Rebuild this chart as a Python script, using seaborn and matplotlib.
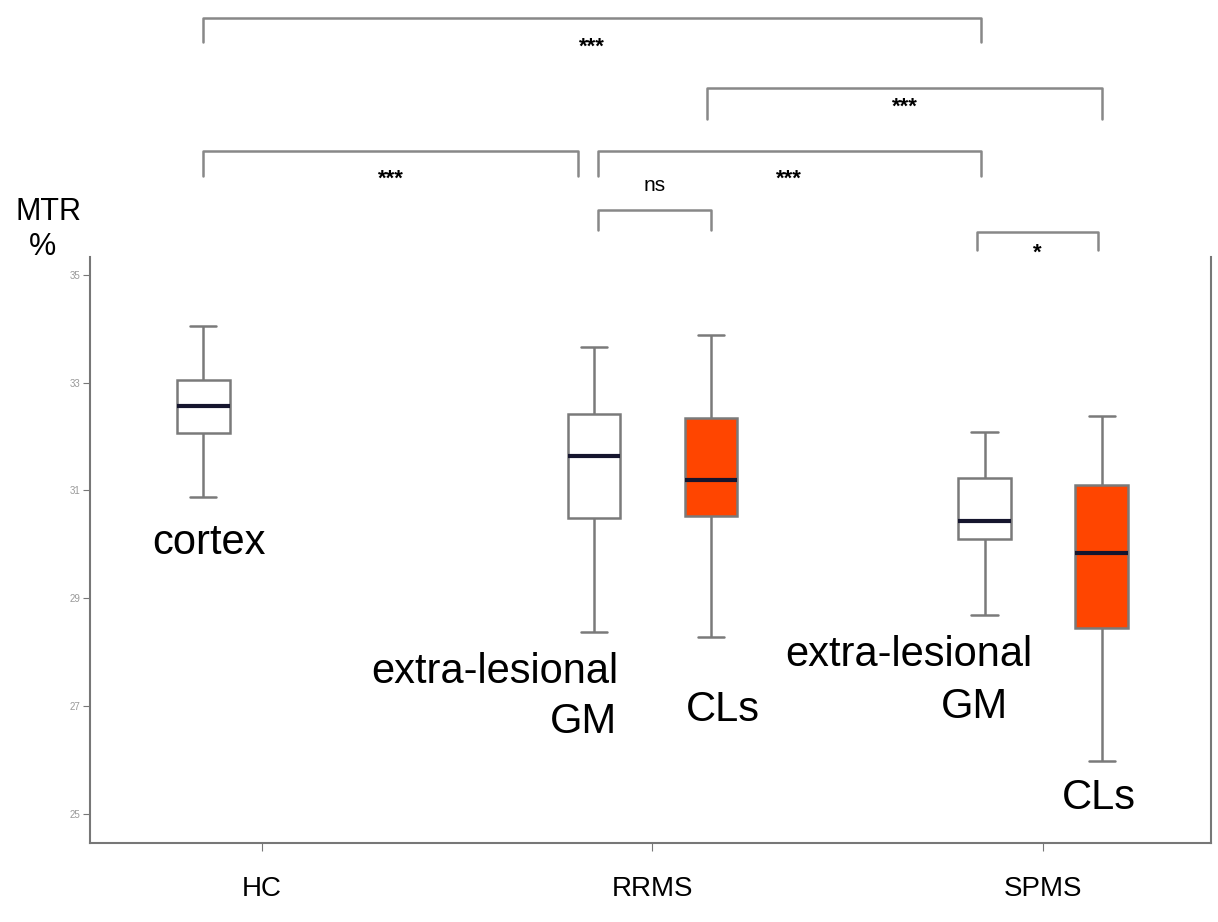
import pandas as pd
import seaborn as sns
import matplotlib.pyplot as plt

# Данные: пятичисловые сводки (min, Q1, медиана, Q3, max) для каждого бокса
groups = ['HC', 'RRMS', 'SPMS']
tissues = ['GM', 'CLs']

hc_cortex = [30.88, 32.07, 32.57, 33.05, 34.05]
rrms_gm = [28.38, 30.49, 31.64, 32.42, 33.66]
rrms_cl = [28.28, 30.53, 31.20, 32.35, 33.89]
spms_gm = [28.69, 30.10, 30.44, 31.23, 32.09]
spms_cl = [25.98, 28.45, 29.84, 31.10, 32.38]

# Сравнения: (x1, x2, метка)
comparisons = [
    (-0.15, 1.84, '***'),
    (1.14, 2.15, '***'),
    (-0.15, 0.81, '***'),
    (0.86, 1.84, '***'),
    (0.86, 1.15, 'ns'),
    (1.83, 2.14, '*'),
]
bracket_top = [39.77, 38.47, 37.30, 37.30, 36.21, 35.80]
bracket_end = [39.32, 37.88, 36.84, 36.84, 35.83, 35.46]
label_y = [39.22, 38.10, 36.77, 36.77, 36.65, 35.40]

rows = []
for g, t, vals in [('HC', 'GM', hc_cortex), ('RRMS', 'GM', rrms_gm), ('RRMS', 'CLs', rrms_cl),
                   ('SPMS', 'GM', spms_gm), ('SPMS', 'CLs', spms_cl)]:
    for v in vals:
        rows.append({'group': g, 'tissue': t, 'mtr': v})
df = pd.DataFrame(rows)

sns.set_style('ticks')
plt.rcParams['font.family'] = ['Liberation Sans', 'DejaVu Sans']
plt.rcParams['text.color'] = 'black'
plt.rcParams['xtick.labelcolor'] = 'black'

fig = plt.figure(figsize=(12.18, 9.22), dpi=100)
ax = fig.add_axes([0.0739, 0.0857, 0.9204, 0.6356])

sns.boxplot(data=df, x='group', y='mtr', hue='tissue', order=groups, hue_order=tissues,
            palette={'GM': 'white', 'CLs': '#FF4500'}, saturation=1, width=0.6, gap=0.55,
            whis=(0, 100), linecolor='#7a7a7a', linewidth=1.8,
            medianprops=dict(color='#15152e', linewidth=3), legend=False, ax=ax)

ax.set_xlim(-0.44, 2.43)
ax.set_ylim(24.46, 35.33)
ax.set_yticks([25, 27, 29, 31, 33, 35])
ax.set_xlabel('')
ax.set_ylabel('')
ax.spines['top'].set_visible(False)
for s in ['left', 'bottom', 'right']:
    ax.spines[s].set_color('#777777')
    ax.spines[s].set_linewidth(1.5)
ax.tick_params(axis='y', length=5, color='#777777', labelsize=7, labelcolor='#999999', pad=2)
ax.tick_params(axis='x', length=6, color='#777777', labelsize=20, labelcolor='black', pad=18)

# Подписи боксов
ax.text(-0.136, 30.03, 'cortex', fontsize=30, ha='center', va='center')
ax.text(0.596, 27.63, 'extra-lesional', fontsize=30, ha='center', va='center')
ax.text(0.822, 26.71, 'GM', fontsize=30, ha='center', va='center')
ax.text(1.181, 26.93, 'CLs', fontsize=30, ha='center', va='center')
ax.text(1.656, 27.95, 'extra-lesional', fontsize=30, ha='center', va='center')
ax.text(1.823, 26.99, 'GM', fontsize=30, ha='center', va='center')
ax.text(2.144, 25.30, 'CLs', fontsize=30, ha='center', va='center')

# Скобки значимости
for (x1, x2, lab), yt, ye, yl in zip(comparisons, bracket_top, bracket_end, label_y):
    ax.plot([x1, x1, x2, x2], [ye, yt, yt, ye], color='#888888', lw=1.8, clip_on=False)
    if lab == 'ns':
        ax.text((x1 + x2) / 2, yl, lab, fontsize=15, ha='center', va='center')
    else:
        ax.text((x1 + x2) / 2, yl, lab, fontsize=16, fontweight='bold', ha='center', va='center')

fig.text(48 / 1218, 1 - 212 / 922, 'MTR', fontsize=22, ha='center', va='center')
fig.text(42 / 1218, 1 - 247 / 922, '%', fontsize=22, ha='center', va='center')

fig.savefig('out.png', dpi=100)
